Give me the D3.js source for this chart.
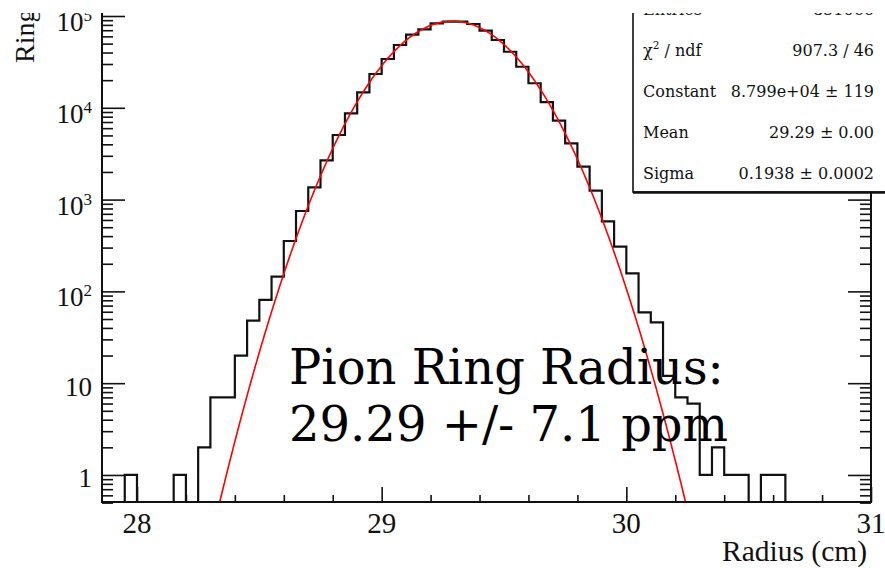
<!DOCTYPE html>
<html>
<head>
<meta charset="utf-8">
<script src="https://cdn.jsdelivr.net/npm/d3@7"></script>
<style>
  body { margin: 0; background: #fff; }
  svg { display: block; }
</style>
</head>
<body>
<svg id="chart" width="885" height="568"></svg>
<script>
// Ring radius histogram, 0.05 cm bins starting at 27.85 cm
const binLowEdge = 27.85;
const binWidth = 0.05;
const counts = [
  0, 0, 1, 0, 0, 0, 1, 0, 2, 7,
  7, 20, 48, 81, 145, 354, 751, 1361, 2680, 5056,
  8710, 14750, 23340, 34000, 48300, 62600, 71600, 83200, 86700, 86700,
  81800, 69200, 54800, 40800, 28000, 18500, 11500, 7240, 4100, 2281,
  1250, 580, 307, 157, 59, 46, 12, 7, 6, 1,
  2, 1, 1, 0, 1, 1, 0, 0, 0, 0,
  0, 0, 0
];

// Gaussian fit parameters
const fitConstant = 8.799e4;
const fitMean = 29.29;
const fitSigma = 0.1938;

// Axis ticks and labels
const xRange = [27.857, 31];
const xMajorTicks = [28, 29, 30, 31];
const xMinorTicks = [28.2, 28.4, 28.6, 28.8, 29.2, 29.4, 29.6, 29.8, 30.2, 30.4, 30.6, 30.8];
const yMin = 0.5;
const yMajorTicks = [1, 10, 100, 1000, 10000, 100000];
const yLabelBase = ["1", "10", "10", "10", "10", "10"];
const yLabelExp = ["", "", "2", "3", "4", "5"];

// Statistics box rows
const statLabels = ["Entries", "χ|2| / ndf", "Constant", "Mean", "Sigma"];
const statValues = [String(d3.sum(counts)), "907.3 / 46", "8.799e+04 ± 119", "29.29 ± 0.00", "0.1938 ± 0.0002"];

const annotationLines = ["Pion Ring Radius:", "29.29 +/- 7.1 ppm"];
const xTitle = "Radius (cm)";
const yTitle = "Ring";

// Layout
const frame = { left: 102, right: 871, bottom: 502, top: -20 };
const svg = d3.select("#chart");

const x = d3.scaleLinear().domain(xRange).range([frame.left, frame.right]);
const y = d3.scaleLog().domain([yMin, 1e5]).range([502.6, 16]);

const defs = svg.append("defs");
defs.append("clipPath").attr("id", "plotArea")
  .append("rect")
  .attr("x", frame.left).attr("y", frame.top)
  .attr("width", frame.right - frame.left)
  .attr("height", frame.bottom - frame.top);

const plot = svg.append("g").attr("clip-path", "url(#plotArea)");

// Histogram outline
const histPts = [[x.domain()[0], yMin]];
counts.forEach((c, i) => {
  const lo = binLowEdge + i * binWidth;
  const v = Math.max(c, yMin);
  histPts.push([lo, v], [lo + binWidth, v]);
});
histPts.push([x.domain()[1], yMin]);

plot.append("path")
  .datum(histPts)
  .attr("fill", "none")
  .attr("stroke", "#111")
  .attr("stroke-width", 2.2)
  .attr("stroke-linejoin", "miter")
  .attr("d", d3.line().x(d => x(d[0])).y(d => y(d[1])));

// Gaussian fit curve
const gauss = r => fitConstant * Math.exp(-0.5 * Math.pow((r - fitMean) / fitSigma, 2));
const fitPts = d3.range(xRange[0], xRange[1], 0.004).map(r => [r, gauss(r)]);
plot.append("path")
  .datum(fitPts)
  .attr("fill", "none")
  .attr("stroke", "#ff0000")
  .attr("stroke-width", 1.6)
  .attr("d", d3.line()
    .defined(d => d[1] >= 0.25)
    .x(d => x(d[0]))
    .y(d => y(Math.max(d[1], 0.25))));

// Frame lines
const axisStyle = g => {
  g.selectAll("path.domain").remove();
  g.selectAll("line").attr("stroke", "#111").attr("stroke-width", 1.6);
  g.selectAll("text").remove();
};

svg.append("line")
  .attr("x1", frame.left).attr("x2", frame.right)
  .attr("y1", frame.bottom).attr("y2", frame.bottom)
  .attr("stroke", "#111").attr("stroke-width", 2);
svg.append("line")
  .attr("x1", frame.left).attr("x2", frame.left)
  .attr("y1", frame.top).attr("y2", frame.bottom + 1)
  .attr("stroke", "#111").attr("stroke-width", 2);
svg.append("line")
  .attr("x1", frame.right).attr("x2", frame.right)
  .attr("y1", frame.top).attr("y2", frame.bottom + 1)
  .attr("stroke", "#111").attr("stroke-width", 2);

// X-axis ticks (pointing into the frame)
svg.append("g").attr("transform", `translate(0,${frame.bottom})`)
  .call(d3.axisTop(x).tickValues(xMajorTicks).tickSize(15).tickFormat(""))
  .call(axisStyle);
svg.append("g").attr("transform", `translate(0,${frame.bottom})`)
  .call(d3.axisTop(x).tickValues(xMinorTicks).tickSize(7).tickFormat(""))
  .call(axisStyle);

// Y-axis ticks, left and right sides
const yMinorTicks = [];
[-1, 0, 1, 2, 3, 4].forEach(e => {
  for (let k = 2; k <= 9; k++) {
    const v = k * Math.pow(10, e);
    if (v >= yMin && v < 1e5) yMinorTicks.push(v);
  }
});
[[d3.axisRight, frame.left], [d3.axisLeft, frame.right]].forEach(([ax, px]) => {
  svg.append("g").attr("transform", `translate(${px},0)`)
    .call(ax(y).tickValues(yMajorTicks).tickSize(23).tickFormat(""))
    .call(axisStyle);
  svg.append("g").attr("transform", `translate(${px},0)`)
    .call(ax(y).tickValues(yMinorTicks).tickSize(11).tickFormat(""))
    .call(axisStyle);
});

// Tick labels
const serif = "'Liberation Serif', 'Times New Roman', serif";
svg.append("g").selectAll("text")
  .data(xMajorTicks).join("text")
  .attr("x", d => x(d)).attr("y", 533)
  .attr("text-anchor", "middle")
  .attr("font-family", serif).attr("font-size", 29)
  .attr("fill", "#111")
  .text(d => d);

const yl = svg.append("g").selectAll("text")
  .data(yMajorTicks).join("text")
  .attr("x", 92)
  .attr("y", (d, i) => y(d) + (yLabelExp[i] ? 15 : 12.5))
  .attr("text-anchor", "end")
  .attr("font-family", serif).attr("font-size", 27)
  .attr("fill", "#111");
yl.append("tspan").text((d, i) => yLabelBase[i]);
yl.append("tspan")
  .attr("font-size", 17).attr("dy", -10)
  .text((d, i) => yLabelExp[i]);

// Axis titles
svg.append("text")
  .attr("x", 867).attr("y", 561)
  .attr("text-anchor", "end")
  .attr("font-family", serif).attr("font-size", 29.5)
  .attr("fill", "#111")
  .text(xTitle);
svg.append("text")
  .attr("transform", "translate(34,63) rotate(-90)")
  .attr("text-anchor", "start")
  .attr("font-family", serif).attr("font-size", 28)
  .attr("fill", "#111")
  .text(yTitle);

// Statistics box
const statFont = "'DejaVu Serif', serif";
svg.append("rect")
  .attr("x", 633).attr("y", -20)
  .attr("width", 300).attr("height", 212)
  .attr("fill", "#fff").attr("stroke", "#111").attr("stroke-width", 1.6);
svg.append("line")
  .attr("x1", 633).attr("x2", 885).attr("y1", 192.5).attr("y2", 192.5)
  .attr("stroke", "#111").attr("stroke-width", 2.4);

const rowY = i => 14.5 + i * 41;
statLabels.forEach((lab, i) => {
  const t = svg.append("text")
    .attr("x", 643).attr("y", rowY(i))
    .attr("font-family", statFont).attr("font-size", 16)
    .attr("fill", "#111");
  const parts = lab.split("|");
  t.append("tspan").text(parts[0]);
  if (parts.length > 1) {
    t.append("tspan").attr("font-size", 10.5).attr("dy", -7).text(parts[1]);
    t.append("tspan").attr("dy", 7).text(parts[2]);
  }
  svg.append("text")
    .attr("x", 874).attr("y", rowY(i))
    .attr("text-anchor", "end")
    .attr("font-family", statFont).attr("font-size", 16)
    .attr("fill", "#111")
    .text(statValues[i]);
});

// Result annotation
svg.append("g").selectAll("text")
  .data(annotationLines).join("text")
  .attr("x", 289)
  .attr("y", (d, i) => 384 + i * 57)
  .attr("font-family", "'DejaVu Serif', serif")
  .attr("font-size", 48)
  .attr("fill", "#000")
  .text(d => d);

// Top margin strip
svg.append("rect")
  .attr("x", 0).attr("y", 0).attr("width", 885).attr("height", 13)
  .attr("fill", "#fff");
</script>
</body>
</html>
